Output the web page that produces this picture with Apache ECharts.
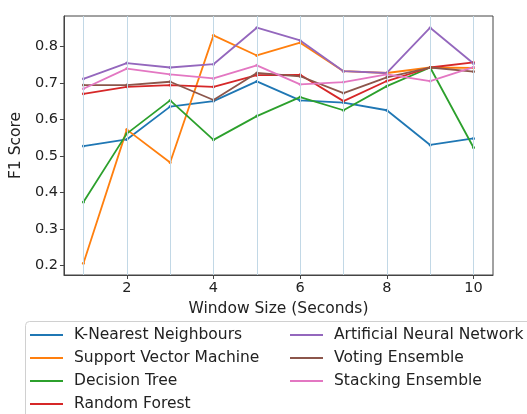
<!DOCTYPE html>
<html>
<head>
<meta charset="utf-8">
<script src="https://cdn.jsdelivr.net/npm/echarts@6/dist/echarts.min.js"></script>
<style>
  html, body { margin: 0; padding: 0; background: #fff; }
  #chart { width: 527px; height: 414px; }
</style>
</head>
<body>
<div id="chart"></div>
<script>
// F1 score per classifier for each window size (seconds)
const windowSizes = [1, 2, 3, 4, 5, 6, 7, 8, 9, 10];
const knn      = [0.527, 0.545, 0.635, 0.650, 0.704, 0.652, 0.646, 0.625, 0.530, 0.548];
const svm      = [0.206, 0.572, 0.482, 0.830, 0.775, 0.810, 0.732, 0.727, 0.742, 0.741];
const dtree    = [0.374, 0.561, 0.652, 0.544, 0.609, 0.661, 0.625, 0.691, 0.742, 0.523];
const rforest  = [0.670, 0.689, 0.694, 0.689, 0.721, 0.722, 0.650, 0.705, 0.742, 0.756];
const ann      = [0.711, 0.754, 0.742, 0.751, 0.851, 0.816, 0.732, 0.727, 0.851, 0.753];
const voting   = [0.694, 0.694, 0.703, 0.653, 0.727, 0.718, 0.672, 0.715, 0.742, 0.731];
const stacking = [0.684, 0.739, 0.723, 0.712, 0.748, 0.696, 0.702, 0.723, 0.705, 0.743];

const xTicks = [2, 4, 6, 8, 10];
const yTicks = [0.2, 0.3, 0.4, 0.5, 0.6, 0.7, 0.8];

const models = [
  { name: 'K-Nearest Neighbours',      values: knn,      color: '#1f77b4' },
  { name: 'Support Vector Machine',    values: svm,      color: '#ff7f0e' },
  { name: 'Decision Tree',             values: dtree,    color: '#2ca02c' },
  { name: 'Random Forest',             values: rforest,  color: '#d62728' },
  { name: 'Artificial Neural Network', values: ann,      color: '#9467bd' },
  { name: 'Voting Ensemble',           values: voting,   color: '#8c564b' },
  { name: 'Stacking Ensemble',         values: stacking, color: '#e377c2' }
];

const font = 'DejaVu Sans';
const tickSize = 14.5;
const labelSize = 15.5;
const chart = echarts.init(document.getElementById('chart'), null, { renderer: 'canvas' });

const series = models.map(m => ({
  name: m.name,
  type: 'line',
  data: windowSizes.map((x, i) => [x, m.values[i]]),
  color: m.color,
  symbol: 'circle',
  symbolSize: 3,
  lineStyle: { width: 1.8, color: m.color },
  itemStyle: { color: m.color },
  emphasis: { disabled: true },
  z: 3
}));

// vertical guide lines at every window size
series.unshift({
  name: 'guides',
  type: 'line',
  data: [],
  silent: true,
  z: 1,
  markLine: {
    silent: true,
    symbol: 'none',
    label: { show: false },
    lineStyle: { color: '#c2d8e6', width: 1, type: 'solid' },
    data: windowSizes.map(x => ({ xAxis: x }))
  }
});

const legendCommon = {
  orient: 'vertical',
  icon: 'rect',
  itemWidth: 33,
  itemHeight: 2,
  itemGap: 7,
  padding: 0,
  selectedMode: false,
  textStyle: { fontFamily: font, fontSize: labelSize, color: '#222', padding: [0, 0, 0, 6], lineHeight: 16 }
};

chart.setOption({
  animation: false,
  backgroundColor: '#fff',
  grid: {
    left: 62, right: 34, top: 16, bottom: 139,
    show: true, borderColor: '#444', borderWidth: 1, backgroundColor: 'transparent'
  },
  graphic: [{
    type: 'rect',
    z: -1,
    shape: { x: 25.5, y: 321.5, width: 600, height: 140, r: 4 },
    style: { fill: '#fff', stroke: '#d0d0d0', lineWidth: 1 }
  }],
  legend: [
    Object.assign({}, legendCommon, {
      left: 30, top: 327,
      data: models.slice(0, 4).map(m => m.name)
    }),
    Object.assign({}, legendCommon, {
      left: 290, top: 327,
      data: models.slice(4).map(m => m.name)
    })
  ],
  xAxis: {
    type: 'value',
    min: 0.55,
    max: 10.45,
    name: 'Window Size (Seconds)',
    nameLocation: 'middle',
    nameGap: 24,
    nameTextStyle: { fontFamily: font, fontSize: labelSize, color: '#222' },
    axisLine: { show: true, lineStyle: { color: '#444' } },
    axisTick: { show: true, length: 4, lineStyle: { color: '#444' }, customValues: xTicks },
    axisLabel: {
      fontFamily: font, fontSize: tickSize, color: '#222', margin: 6,
      customValues: xTicks,
      formatter: v => String(Math.round(v))
    },
    splitLine: { show: false }
  },
  yAxis: {
    type: 'value',
    min: 0.174,
    max: 0.883,
    name: 'F1 Score',
    nameLocation: 'middle',
    nameGap: 34,
    nameRotate: 90,
    nameTextStyle: { fontFamily: font, fontSize: labelSize, color: '#222' },
    axisLine: { show: true, lineStyle: { color: '#444' } },
    axisTick: { show: true, length: 4, lineStyle: { color: '#444' }, customValues: yTicks },
    axisLabel: {
      fontFamily: font, fontSize: tickSize, color: '#222', margin: 6,
      customValues: yTicks,
      formatter: v => v.toFixed(1)
    },
    splitLine: { show: false }
  },
  series: series
});
</script>
</body>
</html>
